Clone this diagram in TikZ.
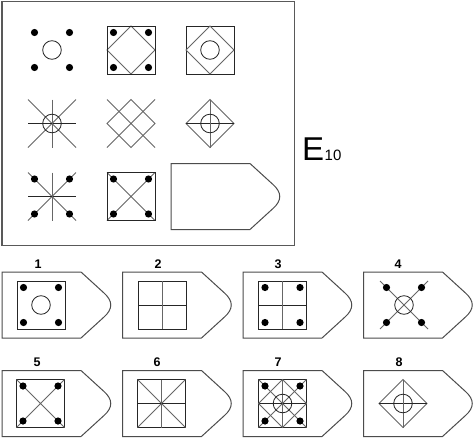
\documentclass[tikz,border=0pt]{standalone}
\usepackage{fontspec}
\setmainfont{Liberation Sans}
\begin{document}
\begin{tikzpicture}[x=1pt,y=-1pt,
  hv/.style={draw=black!85,line width=0.8pt},
  dg/.style={draw=black!60,line width=0.8pt},
  boxline/.style={draw=black!70,line width=1pt},
  mainbox/.style={draw=black!65,line width=1.2pt},
  lbl/.style={font=\fontsize{12.5}{12.5}\selectfont\bfseries,inner sep=0pt},
  sqr/.pic={\draw[hv] (-24,-24) rectangle (24,24);},
  dmd/.pic={\draw[dg] (-24,0)--(0,-24)--(24,0)--(0,24)--cycle;},
  xx/.pic={\draw[dg] (-24,-24)--(24,24) (-24,24)--(24,-24);},
  pls/.pic={\draw[hv] (-24,0)--(24,0); \draw[dg] (0,-24)--(0,24);},
  crc/.pic={\draw[hv] (0,0) circle (9.3pt);},
  dts/.pic={\fill[black] (-17.5,-17.5) circle (3.6pt) (17.5,-17.5) circle (3.6pt)
                         (-17.5,17.5) circle (3.6pt) (17.5,17.5) circle (3.6pt);},
  shp/.pic={\draw[boxline] (0,0) -- (79,0) -- (102,21)
            .. controls (111,29) and (111,37) .. (102,45) -- (79,66) -- (0,66) -- cycle;}
]
\useasboundingbox (0,0) rectangle (474,439);
\fill[white] (0,0) rectangle (474,439);
% main frame
\draw[mainbox] (2,1.5) rectangle (294.5,245.5);
% row 1
\pic at (52,50) {dts}; \pic at (52,50) {crc};
\pic at (131,50) {dmd}; \pic at (131,50) {sqr}; \pic at (131,50) {dts};
\pic at (210,50) {sqr}; \pic at (210,50) {dmd}; \pic at (210,50) {crc};
% row 2
\pic at (52,123.5) {xx}; \pic at (52,123.5) {pls}; \pic at (52,123.5) {crc};
\pic at (131,123.5) {dmd}; \pic at (131,123.5) {xx};
\pic at (210,123.5) {dmd}; \pic at (210,123.5) {pls}; \pic at (210,123.5) {crc};
% row 3
\pic at (52,196.5) {xx}; \pic at (52,196.5) {pls}; \pic at (52,196.5) {dts};
\pic at (131,196.5) {xx}; \pic at (131,196.5) {sqr}; \pic at (131,196.5) {dts};
\pic at (171,163.5) {shp};
% title
\node[anchor=base west,inner sep=0pt,font=\fontsize{33}{33}\selectfont] (E) at (302,160) {E};
\node[anchor=base west,inner sep=0pt,font=\fontsize{15}{15}\selectfont] (n) at (324.5,160) {10};
% options row 1
\pic at (2,272) {shp};     \node[lbl] (l1) at (38,264) {1};
\pic at (41,305) {sqr}; \pic at (41,305) {dts}; \pic at (41,305) {crc};
\pic at (122.5,272) {shp}; \node[lbl] (l2) at (158,264) {2};
\pic at (162,305) {sqr}; \pic at (162,305) {pls};
\pic at (243,272) {shp};   \node[lbl] (l3) at (278,264) {3};
\pic at (282.5,305) {sqr}; \pic at (282.5,305) {pls}; \pic at (282.5,305) {dts};
\pic at (363.5,272) {shp}; \node[lbl] (l4) at (398,264) {4};
\pic at (404,305) {xx}; \pic at (404,305) {dts}; \pic at (404,305) {crc};
% options row 2
\pic at (2,370.5) {shp};     \node[lbl] (l5) at (37,362) {5};
\pic at (40.5,403.5) {sqr}; \pic at (40.5,403.5) {xx}; \pic at (40.5,403.5) {dts};
\pic at (122.5,370.5) {shp}; \node[lbl] (l6) at (157,362) {6};
\pic at (161.5,403.5) {sqr}; \pic at (161.5,403.5) {xx}; \pic at (161.5,403.5) {pls};
\pic at (243,370.5) {shp};   \node[lbl] (l7) at (278,362) {7};
\pic at (282.5,403.5) {sqr}; \pic at (282.5,403.5) {xx}; \pic at (282.5,403.5) {pls};
\pic at (282.5,403.5) {dmd}; \pic at (282.5,403.5) {crc}; \pic at (282.5,403.5) {dts};
\pic at (363.5,370.5) {shp}; \node[lbl] (l8) at (399,362) {8};
\pic at (403,403.5) {dmd}; \pic at (403,403.5) {pls}; \pic at (403,403.5) {crc};
\end{tikzpicture}
\end{document}
